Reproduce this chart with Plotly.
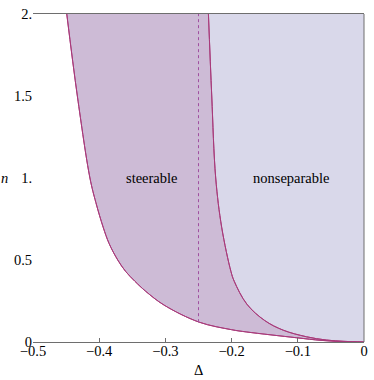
import plotly.graph_objects as go

# boundary of the steerable region (left curve), n against Delta
n_steer = [2.0, 1.5, 1.0, 0.85, 0.7, 0.6, 0.5, 0.43, 0.37, 0.31, 0.225, 0.121, 0.075, 0.061,
           0.026, 0.01, 0.003, 0.0]
d_steer = [-0.449, -0.433, -0.414, -0.405, -0.394, -0.385, -0.372, -0.360, -0.346, -0.330,
           -0.302, -0.249, -0.20, -0.177, -0.102, -0.065, -0.035, 0.0]

# boundary of the nonseparable region (right curve)
n_nonsep = [2.0, 1.5, 1.0, 0.7, 0.43, 0.37, 0.231, 0.131, 0.072, 0.032, 0.012, 0.004, 0.0]
d_nonsep = [-0.235, -0.230, -0.224, -0.215, -0.201, -0.196, -0.177, -0.150, -0.122, -0.087,
            -0.057, -0.03, 0.0]

# dashed marker line
dash_delta = -0.25
dash_n = [0.121, 2.0]

# plot window
x_range = [-0.5, 0]
y_range = [0, 2]

x_ticks = [-0.5, -0.4, -0.3, -0.2, -0.1, 0]
x_labels = ["\u22120.5", "\u22120.4", "\u22120.3", "\u22120.2", "\u22120.1", "0"]
y_ticks = [0, 0.5, 1, 1.5, 2]
y_labels = ["0", "0.5", "1.", "1.5", "2."]

steer_fill = "rgb(205,187,214)"
nonsep_fill = "rgb(217,216,234)"
curve_col = "rgb(168,58,122)"
axis_col = "rgb(110,110,110)"
font = "Liberation Serif"

curve_line = dict(color=curve_col, width=1, shape="spline", smoothing=1)

fig = go.Figure()

fig.add_trace(go.Scatter(x=d_steer, y=n_steer, mode="lines", line=curve_line))
fig.add_trace(go.Scatter(x=d_nonsep, y=n_nonsep, mode="lines", fill="tonextx",
                         fillcolor=steer_fill, line=curve_line))
# right edge of the window (top to bottom), closes the nonseparable region
fig.add_trace(go.Scatter(x=[x_range[1], x_range[1]], y=[y_range[1], y_range[0]],
                         mode="lines", fill="tonextx", fillcolor=nonsep_fill,
                         line=dict(width=0)))

# redraw curves on top of the fills
fig.add_trace(go.Scatter(x=d_steer, y=n_steer, mode="lines", line=curve_line))
fig.add_trace(go.Scatter(x=d_nonsep, y=n_nonsep, mode="lines", line=curve_line))
fig.add_trace(go.Scatter(x=[dash_delta] * len(dash_n), y=dash_n, mode="lines",
                         line=dict(color="rgb(160,80,160)", width=1, dash="3px,3px")))

fig.add_annotation(x=-0.32, y=1.0, text="steerable", showarrow=False,
                   font=dict(family=font, size=14.5, color="black"))
fig.add_annotation(x=-0.109, y=1.0, text="nonseparable", showarrow=False,
                   font=dict(family=font, size=14.5, color="black"))
fig.add_annotation(xref="paper", yref="y", x=-0.087, y=1.0, xanchor="center",
                   text="<i>n</i>", showarrow=False,
                   font=dict(family=font, size=14.5, color="black"))
fig.add_annotation(xref="paper", yref="paper", x=0.5, y=-0.084, yanchor="middle",
                   text="\u0394", showarrow=False,
                   font=dict(family=font, size=14.5, color="black"))

# frame on the right
fig.add_shape(type="line", xref="paper", yref="paper", x0=1, x1=1, y0=0, y1=1,
              line=dict(color=axis_col, width=1), layer="above")

fig.update_xaxes(range=x_range, tickvals=x_ticks, ticktext=x_labels,
                 showline=True, linecolor=axis_col, linewidth=1, mirror=True,
                 ticks="inside", ticklen=4, tickcolor=axis_col,
                 showgrid=False, zeroline=False, ticklabelstandoff=-4,
                 ticklabeloverflow="allow",
                 tickfont=dict(family=font, size=14.5, color="black"))
fig.update_yaxes(range=y_range, tickvals=y_ticks, ticktext=y_labels,
                 showline=False, ticks="", showgrid=False, zeroline=False,
                 ticklabeloverflow="allow",
                 tickfont=dict(family=font, size=14.5, color="black"))

fig.update_layout(width=374, height=380, showlegend=False,
                  plot_bgcolor="white", paper_bgcolor="white",
                  margin=dict(l=33, r=6, t=7, b=38))

fig.write_html("out.html", config={"displayModeBar": False},
               post_script="document.body.style.margin='0';")
